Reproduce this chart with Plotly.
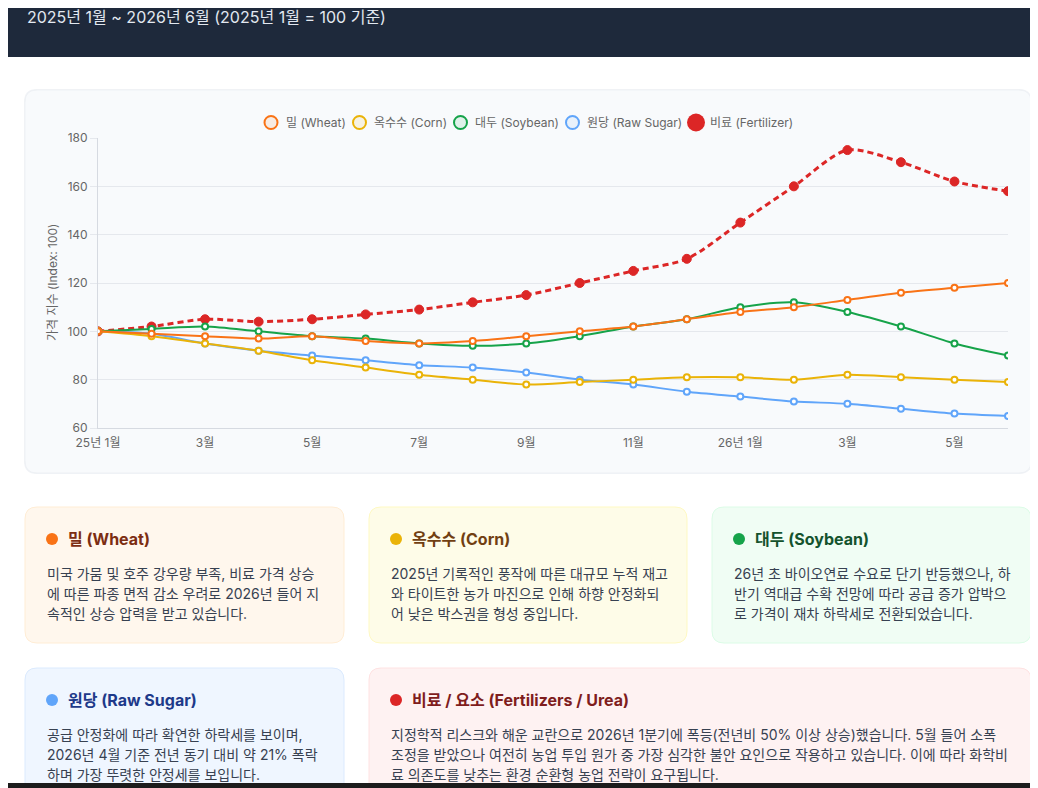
import plotly.graph_objects as go

# the page puts the figure 8px in from the top-left corner, so the figure is
# a bit smaller than the window and all page positions get shifted by OFF
WIN_W, WIN_H = 1038, 788
OFF = 8
W, H = WIN_W - OFF, WIN_H - OFF

months = ["25년 1월", "2월", "3월", "4월", "5월", "6월", "7월", "8월", "9월",
          "10월", "11월", "12월", "26년 1월", "2월", "3월", "4월", "5월", "6월"]
tick_idx = list(range(0, 18, 2))

wheat = [100, 99, 98, 97, 98, 96, 95, 96, 98, 100, 102, 105, 108, 110, 113, 116, 118, 120]
corn = [100, 98, 95, 92, 88, 85, 82, 80, 78, 79, 80, 81, 81, 80, 82, 81, 80, 79]
soybean = [100, 101, 102, 100, 98, 97, 95, 94, 95, 98, 102, 105, 110, 112, 108, 102, 95, 90]
sugar = [100, 99, 95, 92, 90, 88, 86, 85, 83, 80, 78, 75, 73, 71, 70, 68, 66, 65]
fertilizer = [100, 102, 105, 104, 105, 107, 109, 112, 115, 120, 125, 130, 145, 160, 175, 170, 162, 158]

names = ["밀 (Wheat)", "옥수수 (Corn)", "대두 (Soybean)", "원당 (Raw Sugar)", "비료 (Fertilizer)"]
colors = ["#f97316", "#eab308", "#16a34a", "#60a5fa", "#dc2626"]
fills = ["rgba(249,115,22,0.1)", "rgba(234,179,8,0.1)", "rgba(22,163,74,0.1)",
         "rgba(96,165,250,0.1)", "#dc2626"]
series = [wheat, corn, soybean, sugar, fertilizer]

header_text = "2025년 1월 ~ 2026년 6월 (2025년 1월 = 100 기준)"

cards = [
    ("밀 (Wheat)", "#f97316", "#7c2d12", "#fff7ed", "#ffedd5", (25, 507, 344, 643),
     ["미국 가뭄 및 호주 강우량 부족, 비료 가격 상승",
      "에 따른 파종 면적 감소 우려로 2026년 들어 지",
      "속적인 상승 압력을 받고 있습니다."]),
    ("옥수수 (Corn)", "#eab308", "#713f12", "#fefce8", "#fef9c3", (369, 507, 687, 643),
     ["2025년 기록적인 풍작에 따른 대규모 누적 재고",
      "와 타이트한 농가 마진으로 인해 하향 안정화되",
      "어 낮은 박스권을 형성 중입니다."]),
    ("대두 (Soybean)", "#16a34a", "#14532d", "#f0fdf4", "#dcfce7", (712, 507, 1031, 643),
     ["26년 초 바이오연료 수요로 단기 반등했으나, 하",
      "반기 역대급 수확 전망에 따라 공급 증가 압박으",
      "로 가격이 재차 하락세로 전환되었습니다."]),
    ("원당 (Raw Sugar)", "#60a5fa", "#1e3a8a", "#eff6ff", "#dbeafe", (25, 668, 344, 804),
     ["공급 안정화에 따라 확연한 하락세를 보이며,",
      "2026년 4월 기준 전년 동기 대비 약 21% 폭락",
      "하며 가장 뚜렷한 안정세를 보입니다."]),
    ("비료 / 요소 (Fertilizers / Urea)", "#dc2626", "#7f1d1d", "#fef2f2", "#fee2e2", (369, 668, 1031, 804),
     ["지정학적 리스크와 해운 교란으로 2026년 1분기에 폭등(전년비 50% 이상 상승)했습니다. 5월 들어 소폭",
      "조정을 받았으나 여전히 농업 투입 원가 중 가장 심각한 불안 요인으로 작용하고 있습니다. 이에 따라 화학비",
      "료 의존도를 낮추는 환경 순환형 농업 전략이 요구됩니다."]),
]

# hand-drawn legend: (symbol centre x, symbol diameter, text start x) in page pixels
legend_pos = [(271, 13, 284), (359.5, 13, 372), (460.5, 13, 473), (572.5, 13, 585), (696, 18, 708)]
legend_y = 122.5

FONT = "Inter, 'Noto Sans CJK KR', sans-serif"


def px(x):
    return (x - OFF) / W


def py(y):
    return 1 - (y - OFF) / H


def rrect(x0, y0, x1, y1, r):
    # rounded rectangle path in paper coords, given in page pixels
    pts = [
        f"M {px(x0 + r)},{py(y0)}",
        f"L {px(x1 - r)},{py(y0)}",
        f"Q {px(x1)},{py(y0)} {px(x1)},{py(y0 + r)}",
        f"L {px(x1)},{py(y1 - r)}",
        f"Q {px(x1)},{py(y1)} {px(x1 - r)},{py(y1)}",
        f"L {px(x0 + r)},{py(y1)}",
        f"Q {px(x0)},{py(y1)} {px(x0)},{py(y1 - r)}",
        f"L {px(x0)},{py(y0 + r)}",
        f"Q {px(x0)},{py(y0)} {px(x0 + r)},{py(y0)}",
        "Z",
    ]
    return " ".join(pts)


fig = go.Figure()

# draw in reverse so wheat ends up on top, like the original
for i in reversed(range(5)):
    is_fert = i == 4
    fig.add_trace(go.Scatter(
        x=list(range(len(months))), y=series[i], name=names[i],
        mode="lines+markers", showlegend=False,
        line=dict(color=colors[i], width=3 if is_fert else 2,
                  dash="6px,4px" if is_fert else "solid",
                  shape="spline", smoothing=0.8),
        marker=dict(size=9 if is_fert else 6, color=fills[i] if is_fert else "#ffffff",
                    line=dict(color=colors[i], width=1 if is_fert else 2)),
        hovertemplate="%{y}<extra>" + names[i] + "</extra>",
    ))

shapes = [
    dict(type="rect", xref="paper", yref="paper", x0=0, x1=1, y0=py(OFF), y1=py(57),
         fillcolor="#1e293b", line_width=0, layer="below"),
    dict(type="path", xref="paper", yref="paper", path=rrect(24, 89, 1032, 474, 13),
         fillcolor="#f1f3f6", line_width=0, layer="below"),
    dict(type="path", xref="paper", yref="paper", path=rrect(25, 90, 1031, 473, 12),
         fillcolor="#f8fafc", line=dict(color="#eef1f5", width=1), layer="below"),
]

annotations = [
    dict(text=header_text, x=px(25), y=py(17), xref="paper", yref="paper",
         xanchor="left", yanchor="middle", showarrow=False,
         font=dict(family=FONT, size=16, color="#e2e8f0")),
    dict(text="가격 지수 (Index: 100)", x=px(52), y=py(283), xref="paper", yref="paper",
         textangle=-90, showarrow=False, xanchor="center", yanchor="middle",
         font=dict(family=FONT, size=12, color="#666666")),
]

# legend drawn by hand to keep the compact chart.js spacing
for i, (cx, d, tx) in enumerate(legend_pos):
    r = d / 2
    shapes.append(dict(type="circle", xref="paper", yref="paper",
                       x0=px(cx - r), x1=px(cx + r), y0=py(legend_y + r), y1=py(legend_y - r),
                       fillcolor=fills[i], line=dict(color=colors[i], width=2 if i < 4 else 0)))
    annotations.append(dict(text=names[i], x=px(tx), y=py(legend_y), xref="paper",
                            yref="paper", xanchor="left", yanchor="middle", showarrow=False,
                            font=dict(family=FONT, size=12, color="#666666")))

for title, dot, tcol, bg, border, (x0, y0, x1, y1), lines in cards:
    shapes.append(dict(type="path", xref="paper", yref="paper", path=rrect(x0, y0, x1, y1, 12),
                       fillcolor=bg, line=dict(color=border, width=1), layer="below"))
    shapes.append(dict(type="circle", xref="paper", yref="paper",
                       x0=px(x0 + 21), x1=px(x0 + 33), y0=py(y0 + 26), y1=py(y0 + 38),
                       fillcolor=dot, line_width=0, layer="below"))
    annotations.append(dict(text=f"<b>{title}</b>", x=px(x0 + 41), y=py(y0 + 32),
                            xref="paper", yref="paper", xanchor="left", yanchor="middle",
                            showarrow=False, font=dict(family=FONT, size=16, color=tcol)))
    for k, line in enumerate(lines):
        annotations.append(dict(text=line, x=px(x0 + 20), y=py(y0 + 66 + 20 * k),
                                xref="paper", yref="paper", xanchor="left", yanchor="middle",
                                showarrow=False, font=dict(family=FONT, size=14, color="#374151")))

shapes.append(dict(type="rect", xref="paper", yref="paper", x0=0, x1=1, y0=0, y1=py(783),
                   fillcolor="#1c1c1c", line_width=0, layer="above"))

fig.update_layout(
    width=W, height=H, autosize=False,
    margin=dict(l=0, r=0, t=0, b=0, pad=0, autoexpand=False),
    paper_bgcolor="#ffffff", plot_bgcolor="#f8fafc",
    font=dict(family=FONT, size=12, color="#666666"),
    shapes=shapes, annotations=annotations,
    showlegend=False,
    xaxis=dict(domain=[px(98), px(1008)], range=[0, 17], tickvals=tick_idx,
               ticktext=[months[i] for i in tick_idx], showgrid=False, zeroline=False,
               showline=True, linecolor="#d6dae1", linewidth=1, ticks="",
               tickfont=dict(size=12, color="#666666"), ticklabelstandoff=4,
               automargin=False),
    yaxis=dict(domain=[py(428), py(138)], range=[60, 180], dtick=20, showgrid=True,
               gridcolor="#e5e8ed", zeroline=False, showline=True, linecolor="#d6dae1",
               linewidth=1, ticks="outside", ticklen=7, tickcolor="#e5e8ed",
               tickfont=dict(size=12, color="#666666"), automargin=False),
    hovermode="closest",
)

fig.write_html("out.html")
